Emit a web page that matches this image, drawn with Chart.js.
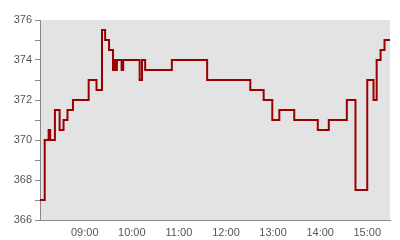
<!DOCTYPE html>
<html>
<head>
<meta charset="utf-8">
<script src="https://cdn.jsdelivr.net/npm/chart.js@4/dist/chart.umd.min.js"></script>
<style>
  body { margin: 0; background: #fff; }
</style>
</head>
<body>
<canvas id="myChart" width="400" height="240"></canvas>
<script>
// step series: time the value starts, value
const times = ['08:03', '08:09', '08:14', '08:16', '08:22', '08:28', '08:33', '08:38', '08:45',
    '09:05', '09:15', '09:22', '09:26', '09:31', '09:36', '09:38', '09:40', '09:41', '09:47', '09:49',
    '10:10', '10:13', '10:17', '10:51', '11:36', '12:31', '12:48', '12:59', '13:08', '13:27',
    '13:57', '14:11', '14:34', '14:45', '15:00', '15:08', '15:12', '15:17', '15:22', '15:29'];
const values = [367, 370, 370.5, 370, 371.5, 370.5, 371, 371.5, 372,
    373, 372.5, 375.5, 375, 374.5, 373.5, 374, 373.5, 374, 373.5, 374,
    373, 374, 373.5, 374, 373, 372.5, 372, 371, 371.5, 371,
    370.5, 371, 372, 367.5, 373, 372, 374, 374.5, 375, 375];
const hourLabels = ['09:00', '10:00', '11:00', '12:00', '13:00', '14:00', '15:00'];
const yMin = 366;
const yMax = 376;

const toMin = (s) => {
    const [h, m] = s.split(':').map(Number);
    return h * 60 + m;
};
const fmt = (v) => {
    const h = Math.floor(v / 60);
    const m = Math.round(v % 60);
    return String(h).padStart(2, '0') + ':' + String(m).padStart(2, '0');
};

const points = times.map((t, i) => ({ x: toMin(t), y: values[i] }));

// gray plot background
const plotBg = {
    id: 'plotBg',
    beforeDraw(chart) {
        const { ctx, chartArea: a } = chart;
        ctx.save();
        ctx.fillStyle = '#e3e3e3';
        ctx.fillRect(a.left, a.top, a.right - a.left, a.bottom - a.top);
        ctx.restore();
    }
};

const font = { family: 'Liberation Sans, Arial, sans-serif', size: 11 };

new Chart(document.getElementById('myChart').getContext('2d'), {
    type: 'line',
    data: {
        datasets: [{
            data: points,
            borderColor: '#990000',
            borderWidth: 2,
            pointRadius: 0,
            stepped: true,
            fill: false
        }]
    },
    options: {
        responsive: false,
        animation: false,
        layout: { padding: { top: 20, right: 10, left: 0, bottom: 0 } },
        plugins: {
            legend: { display: false },
            tooltip: { enabled: false }
        },
        scales: {
            x: {
                type: 'linear',
                min: toMin(times[0]),
                max: toMin(times[times.length - 1]),
                afterBuildTicks: (scale) => {
                    scale.ticks = hourLabels.map(h => ({ value: toMin(h) }));
                },
                afterFit: (scale) => { scale.height = 20; },
                grid: { display: false, drawTicks: false },
                border: { display: true, color: '#888', width: 1 },
                ticks: {
                    color: '#555',
                    font: font,
                    padding: 6,
                    maxRotation: 0,
                    autoSkip: false,
                    callback: (v) => fmt(v)
                }
            },
            y: {
                min: yMin,
                max: yMax,
                afterFit: (scale) => { scale.width = 40; },
                grid: {
                    drawOnChartArea: false,
                    drawTicks: true,
                    tickLength: 5,
                    color: '#888'
                },
                border: { display: true, color: '#888', width: 1 },
                ticks: {
                    stepSize: 1,
                    autoSkip: false,
                    color: '#555',
                    font: font,
                    padding: 3,
                    callback: (v) => (v % 2 === 0 ? String(v) : '')
                }
            }
        }
    },
    plugins: [plotBg]
});
</script>
</body>
</html>
